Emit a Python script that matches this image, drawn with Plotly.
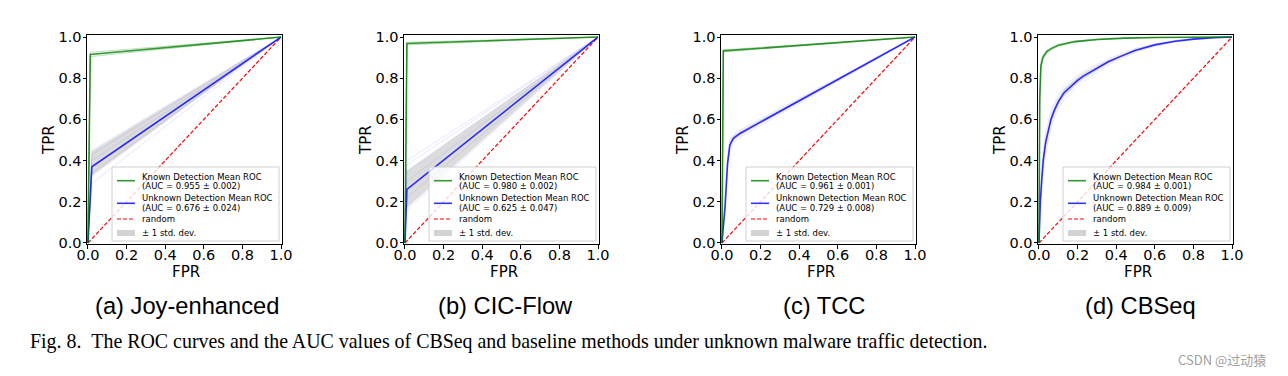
import plotly.graph_objects as go

W, H = 1288, 376

# ---------------- data ----------------
panel_titles = ["(a) Joy-enhanced", "(b) CIC-Flow", "(c) TCC", "(d) CBSeq"]
known_auc = ["0.955 ± 0.002", "0.980 ± 0.002", "0.961 ± 0.001", "0.984 ± 0.001"]
unknown_auc = ["0.676 ± 0.024", "0.625 ± 0.047", "0.729 ± 0.008", "0.889 ± 0.009"]
tick_vals = [0.0, 0.2, 0.4, 0.6, 0.8, 1.0]
tick_text = ["0.0", "0.2", "0.4", "0.6", "0.8", "1.0"]
random_fpr = [0, 1]
random_tpr = [0, 1]

# (a) Joy-enhanced
known_fpr_a = [0, 0.012, 1]
known_tpr_a = [0, 0.916, 1]
known_folds_a = [[0, 0.905, 1], [0, 0.926, 1]]
unknown_fpr_a = [0, 0.02, 1]
unknown_tpr_a = [0, 0.37, 1]
unknown_lo_a = [0, 0.325, 1]
unknown_hi_a = [0, 0.445, 1]
unknown_folds_a = [[0, 0.29, 1], [0, 0.34, 1], [0, 0.40, 1], [0, 0.43, 1], [0, 0.45, 1]]

# (b) CIC-Flow
known_fpr_b = [0, 0.01, 1]
known_tpr_b = [0, 0.969, 1]
known_folds_b = [[0, 0.962, 1], [0, 0.975, 1]]
unknown_fpr_b = [0, 0.01, 1]
unknown_tpr_b = [0, 0.26, 1]
unknown_lo_b = [0, 0.17, 1]
unknown_hi_b = [0, 0.35, 1]
unknown_folds_b = [[0, 0.16, 1], [0, 0.22, 1], [0, 0.30, 1], [0, 0.35, 1], [0, 0.38, 1], [0, 0.40, 1]]

# (c) TCC
known_fpr_c = [0, 0.007, 1]
known_tpr_c = [0, 0.933, 1]
known_folds_c = [[0, 0.928, 1], [0, 0.938, 1]]
unknown_fpr_c = [0, 0.016, 0.029, 0.041, 0.059, 0.093, 1]
unknown_tpr_c = [0, 0.176, 0.387, 0.476, 0.508, 0.532, 1]
unknown_lo_c = [0, 0.16, 0.37, 0.46, 0.494, 0.52, 1]
unknown_hi_c = [0, 0.192, 0.404, 0.492, 0.522, 0.544, 1]
unknown_folds_c = [[0, 0.14, 0.35, 0.45, 0.485, 0.512, 1],
                   [0, 0.21, 0.42, 0.505, 0.53, 0.55, 1]]

# (d) CBSeq
known_fpr_d = [0, 0.004, 0.01, 0.02, 0.04, 0.066, 0.1, 0.187, 0.3, 0.446, 0.6, 1]
known_tpr_d = [0, 0.70, 0.86, 0.90, 0.93, 0.945, 0.96, 0.978, 0.988, 0.995, 0.998, 1]
known_folds_d = [[0, 0.66, 0.84, 0.89, 0.922, 0.94, 0.955, 0.975, 0.986, 0.994, 0.997, 1],
                 [0, 0.74, 0.88, 0.91, 0.937, 0.95, 0.964, 0.981, 0.99, 0.996, 0.999, 1]]
unknown_fpr_d = [0, 0.003, 0.007, 0.014, 0.022, 0.035, 0.05, 0.062, 0.08, 0.1, 0.13, 0.17,
                 0.2, 0.23, 0.3, 0.359, 0.42, 0.497, 0.6, 0.705, 0.8, 0.9, 1]
unknown_tpr_d = [0, 0.10, 0.20, 0.30, 0.40, 0.49, 0.555, 0.60, 0.645, 0.685, 0.73, 0.765,
                 0.79, 0.81, 0.85, 0.88, 0.905, 0.935, 0.962, 0.98, 0.99, 0.997, 1]
unknown_lo_d = [0, 0.08, 0.17, 0.27, 0.37, 0.46, 0.53, 0.575, 0.622, 0.664, 0.71, 0.747,
                0.773, 0.795, 0.838, 0.87, 0.897, 0.929, 0.958, 0.977, 0.988, 0.996, 1]
unknown_hi_d = [0, 0.12, 0.23, 0.33, 0.43, 0.52, 0.58, 0.625, 0.668, 0.706, 0.75, 0.783,
                0.807, 0.825, 0.862, 0.89, 0.913, 0.941, 0.966, 0.983, 0.992, 0.998, 1]
unknown_folds_d = [[0, 0.06, 0.14, 0.24, 0.34, 0.44, 0.51, 0.56, 0.61, 0.65, 0.695, 0.735,
                    0.762, 0.785, 0.83, 0.864, 0.892, 0.925, 0.955, 0.975, 0.987, 0.995, 1],
                   [0, 0.14, 0.26, 0.36, 0.45, 0.54, 0.60, 0.64, 0.68, 0.718, 0.76, 0.792,
                    0.815, 0.833, 0.868, 0.895, 0.917, 0.944, 0.968, 0.985, 0.993, 0.998, 1]]

panels = [
    (known_fpr_a, known_tpr_a, known_folds_a, unknown_fpr_a, unknown_tpr_a, unknown_lo_a, unknown_hi_a, unknown_folds_a),
    (known_fpr_b, known_tpr_b, known_folds_b, unknown_fpr_b, unknown_tpr_b, unknown_lo_b, unknown_hi_b, unknown_folds_b),
    (known_fpr_c, known_tpr_c, known_folds_c, unknown_fpr_c, unknown_tpr_c, unknown_lo_c, unknown_hi_c, unknown_folds_c),
    (known_fpr_d, known_tpr_d, known_folds_d, unknown_fpr_d, unknown_tpr_d, unknown_lo_d, unknown_hi_d, unknown_folds_d),
]

# ---------------- layout geometry (pixels) ----------------
panel_left = [87, 404, 721, 1038]
panel_w, panel_top, panel_h = 195, 35, 209
subtitle_cx = [187, 505, 824, 1140]

GREEN = "rgba(0,128,0,0.8)"
BLUE = "rgba(0,0,255,0.8)"
BAND = "rgba(128,128,128,0.28)"
FOLD_BLUE = "rgba(0,0,255,0.1)"
FOLD_GREEN = "rgba(0,128,0,0.25)"
TICKFONT = dict(family="DejaVu Sans", size=14.5, color="black")
LEGFONT = dict(family="DejaVu Sans", size=8.5, color="black")


def px(x):
    return x / W


def py(y):
    return 1 - y / H


fig = go.Figure()
shapes = []
annotations = []

for i, (kf, kt, kfolds, uf, ut, ulo, uhi, ufolds) in enumerate(panels):
    n = "" if i == 0 else str(i + 1)
    xa, ya = "x" + n, "y" + n
    # fold curves (faint)
    for f in ufolds:
        fig.add_trace(go.Scatter(x=uf, y=f, mode="lines", xaxis=xa, yaxis=ya,
                                 line=dict(color=FOLD_BLUE, width=1), showlegend=False, hoverinfo="skip"))
    for f in kfolds:
        fig.add_trace(go.Scatter(x=kf, y=f, mode="lines", xaxis=xa, yaxis=ya,
                                 line=dict(color=FOLD_GREEN, width=1), showlegend=False, hoverinfo="skip"))
    # std band
    fig.add_trace(go.Scatter(x=uf, y=ulo, mode="lines", xaxis=xa, yaxis=ya,
                             line=dict(width=0, color=BAND), showlegend=False, hoverinfo="skip"))
    fig.add_trace(go.Scatter(x=uf, y=uhi, mode="lines", xaxis=xa, yaxis=ya, fill="tonexty",
                             fillcolor=BAND, line=dict(width=0, color=BAND),
                             name="± 1 std. dev.", showlegend=False))
    # random
    fig.add_trace(go.Scatter(x=random_fpr, y=random_tpr, mode="lines", xaxis=xa, yaxis=ya,
                             line=dict(color="red", width=1.2, dash="4px,2px"), name="random",
                             showlegend=False))
    # means
    fig.add_trace(go.Scatter(x=uf, y=ut, mode="lines", xaxis=xa, yaxis=ya,
                             line=dict(color=BLUE, width=1.6),
                             name="Unknown Detection Mean ROC", showlegend=False))
    fig.add_trace(go.Scatter(x=kf, y=kt, mode="lines", xaxis=xa, yaxis=ya,
                             line=dict(color=GREEN, width=1.6),
                             name="Known Detection Mean ROC", showlegend=False))

    L = panel_left[i]
    axis_common = dict(range=[-0.005, 1.005], tickvals=tick_vals, ticktext=tick_text,
                       ticks="outside", ticklen=3.5, tickwidth=1, tickcolor="black",
                       showline=True, mirror=True, linecolor="black", linewidth=1,
                       showgrid=False, zeroline=False, tickfont=TICKFONT, fixedrange=True,
                       automargin=False)
    xdict = dict(axis_common, domain=[px(L), px(L + panel_w)], anchor=ya, ticklabelstandoff=-6)
    ydict = dict(axis_common, range=[-0.005, 1.01], domain=[py(panel_top + panel_h), py(panel_top)],
                 anchor=xa, ticklabelstandoff=-2)
    fig.update_layout(**{"xaxis" + n: xdict, "yaxis" + n: ydict})

    # axis titles
    annotations.append(dict(x=px(L + 99.5), y=py(272), xref="paper", yref="paper", text="FPR",
                            showarrow=False, xanchor="center", yanchor="middle",
                            font=dict(family="DejaVu Sans", size=15, color="black")))
    annotations.append(dict(x=px(L - 38), y=py(140), xref="paper", yref="paper", text="TPR",
                            textangle=-90, showarrow=False, xanchor="center", yanchor="middle",
                            font=dict(family="DejaVu Sans", size=15, color="black")))
    # subtitle
    annotations.append(dict(x=px(subtitle_cx[i]), y=py(306), xref="paper", yref="paper",
                            text=panel_titles[i], showarrow=False, xanchor="center", yanchor="middle",
                            font=dict(family="Liberation Sans", size=23.7, color="black")))

    # legend (drawn as box + samples + text)
    bx0, bx1, by0, by1 = L + 25, L + 192, panel_top + 132, panel_top + 206
    shapes.append(dict(type="rect", xref="paper", yref="paper", x0=px(bx0), x1=px(bx1),
                       y0=py(by1), y1=py(by0), line=dict(color="#d0d0d0", width=1),
                       fillcolor="rgba(255,255,255,0.8)", layer="above"))
    sx0, sx1 = L + 30, L + 48
    shapes.append(dict(type="line", xref="paper", yref="paper", x0=px(sx0), x1=px(sx1),
                       y0=py(by0 + 13.7), y1=py(by0 + 13.7), line=dict(color=GREEN, width=1.6), layer="above"))
    shapes.append(dict(type="line", xref="paper", yref="paper", x0=px(sx0), x1=px(sx1),
                       y0=py(by0 + 36.3), y1=py(by0 + 36.3), line=dict(color=BLUE, width=1.6), layer="above"))
    shapes.append(dict(type="line", xref="paper", yref="paper", x0=px(sx0), x1=px(sx1),
                       y0=py(by0 + 52), y1=py(by0 + 52),
                       line=dict(color="red", width=1.2, dash="4px,2px"), layer="above"))
    shapes.append(dict(type="rect", xref="paper", yref="paper", x0=px(sx0), x1=px(sx1),
                       y0=py(by0 + 69), y1=py(by0 + 63), line=dict(width=0),
                       fillcolor="rgba(128,128,128,0.35)", layer="above"))
    tx = px(L + 53)
    leg_lines = [
        (9.7, "Known Detection Mean ROC"),
        (19.0, "(AUC = " + known_auc[i] + ")"),
        (31.3, "Unknown Detection Mean ROC"),
        (40.7, "(AUC = " + unknown_auc[i] + ")"),
        (52.0, "random"),
        (66.0, "± 1 std. dev."),
    ]
    for dy, t in leg_lines:
        annotations.append(dict(x=tx, y=py(by0 + dy), xref="paper", yref="paper", text=t,
                                showarrow=False, xanchor="left", yanchor="middle", font=LEGFONT))

# caption
annotations.append(dict(x=px(28), y=py(341), xref="paper", yref="paper",
                        text="Fig. 8.\u00a0\u00a0The ROC curves and the AUC values of CBSeq and baseline methods under unknown malware traffic detection.",
                        showarrow=False, xanchor="left", yanchor="middle",
                        font=dict(family="Liberation Serif", size=19.9, color="black")))
# watermark
annotations.append(dict(x=px(1222), y=py(359), xref="paper", yref="paper", text="CSDN @过动猿",
                        showarrow=False, xanchor="center", yanchor="middle",
                        font=dict(family="Noto Sans CJK SC", size=13, color="#a0a0a0")))

fig.update_layout(width=W, height=H, margin=dict(l=0, r=0, t=0, b=0, autoexpand=False),
                  paper_bgcolor="white", plot_bgcolor="white", showlegend=False,
                  shapes=shapes, annotations=annotations)

fig.write_html("out.html", config={"displayModeBar": False},
               post_script="document.body.style.margin='0px';")
